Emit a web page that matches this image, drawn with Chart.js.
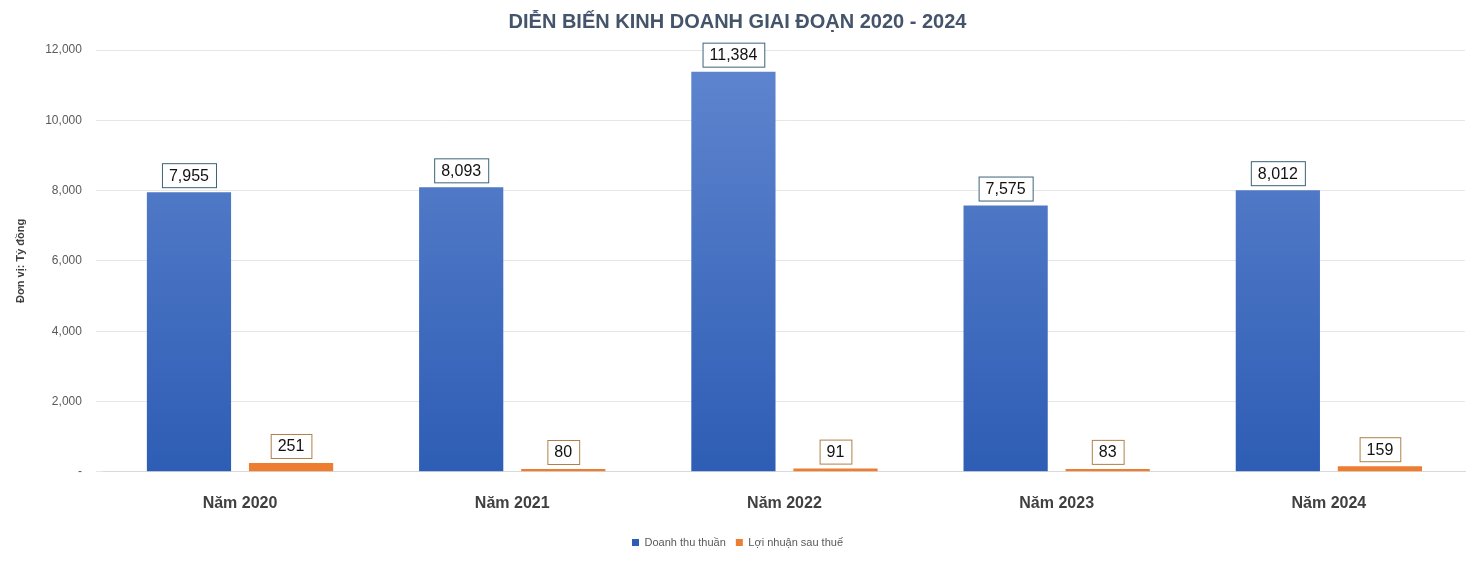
<!DOCTYPE html>
<html><head><meta charset="utf-8">
<script src="https://cdn.jsdelivr.net/npm/chart.js@4/dist/chart.umd.min.js"></script>
<style>html,body{margin:0;padding:0;background:#fff}#w{width:1477px;height:564px}</style>
</head><body><div id="w"><canvas id="c"></canvas></div>
<script>
const categories = ["Năm 2020","Năm 2021","Năm 2022","Năm 2023","Năm 2024"];
const revenue = [7955, 8093, 11384, 7575, 8012];
const profit = [251, 80, 91, 83, 159];
const yTicks = [0,2000,4000,6000,8000,10000,12000];

const labelPlugin = {
  id:'lbl',
  afterDatasetsDraw(chart){
    const ctx = chart.ctx;
    chart.data.datasets.forEach((ds,di)=>{
      const meta = chart.getDatasetMeta(di);
      meta.data.forEach((bar,i)=>{
        const txt = ds.data[i].toLocaleString('en-US');
        ctx.save();
        ctx.font = '16px "Liberation Sans", Arial, sans-serif';
        const w = ctx.measureText(txt).width + 14, h = 24;
        const x = bar.x - w/2, y = bar.y - 5 - h;
        ctx.fillStyle = '#fff'; ctx.fillRect(x,y,w,h);
        ctx.strokeStyle = di===0 ? '#3c6478' : '#b0804a'; ctx.lineWidth = 1;
        ctx.strokeRect(x+0.5,y+0.5,w,h);
        ctx.fillStyle = '#111'; ctx.textAlign='center'; ctx.textBaseline='middle';
        ctx.fillText(txt, bar.x, y+h/2+1);
        ctx.restore();
      });
    });
  }
};

new Chart(document.getElementById('c'), {
  type:'bar',
  data:{labels:categories, datasets:[
    {label:'Doanh thu thuần', data:revenue, backgroundColor:(c)=>{
      const a=c.chart.chartArea; if(!a) return '#4472c4';
      const g=c.chart.ctx.createLinearGradient(0,a.top,0,a.bottom);
      g.addColorStop(0,'#6086cf'); g.addColorStop(1,'#2e5db5'); return g;}},
    {label:'Lợi nhuận sau thuế', data:profit, backgroundColor:'#ed7d31'}
  ]},
  options:{
    responsive:true, maintainAspectRatio:false, animation:false,
    layout:{padding:{left:10,right:12,top:6,bottom:6}},
    datasets:{bar:{categoryPercentage:0.75,barPercentage:0.825}},
    plugins:{
      title:{display:true,text:'DIỄN BIẾN KINH DOANH GIAI ĐOẠN 2020 - 2024',color:'#44546a',
        font:{size:20,weight:'bold',family:'"Liberation Sans", Arial, sans-serif'},padding:{top:4,bottom:16}},
      legend:{position:'bottom',labels:{boxWidth:7,boxHeight:7,color:'#595959',padding:10,
        font:{size:11,family:'"Liberation Sans", Arial, sans-serif'}}},
      tooltip:{enabled:false}
    },
    scales:{
      x:{grid:{display:false},border:{color:'#d9d9d9'},
        ticks:{color:'#404040',padding:14,font:{size:16,weight:'bold',family:'"Liberation Sans", Arial, sans-serif'}}},
      y:{min:0,max:12000,afterBuildTicks:(s)=>{s.ticks=yTicks.map(v=>({value:v}));},
        grid:{color:'#e6e6e6'},border:{display:false},
        title:{display:true,text:'Đơn vị: Tỷ đồng',color:'#404040',font:{size:11,weight:'bold',family:'"Liberation Sans", Arial, sans-serif'}},
        ticks:{color:'#595959',padding:14,font:{size:12,family:'"Liberation Sans", Arial, sans-serif'},
          callback:(v)=>v===0?'-':v.toLocaleString('en-US')}}
    }
  },
  plugins:[labelPlugin]
});
</script></body></html>
